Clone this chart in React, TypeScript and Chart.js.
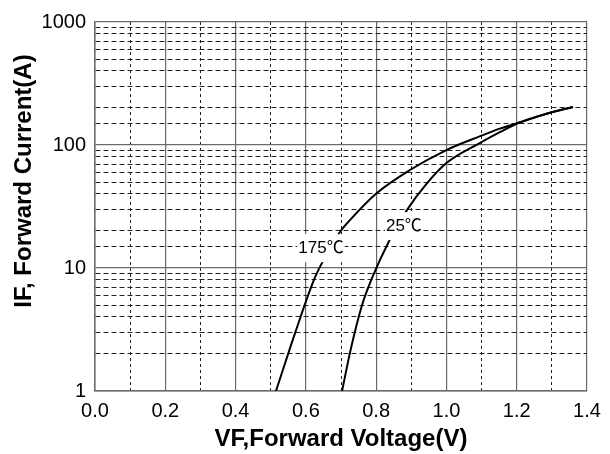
import React, { useEffect, useRef } from "react";
import { Chart, registerables } from "chart.js";

Chart.register(...registerables);

const vf175: number[] = [0.515, 0.57, 0.623, 0.646, 0.697, 0.726, 0.802, 0.896, 1.0, 1.096, 1.152, 1.204, 1.28, 1.36];
const if175: number[] = [1, 3, 8, 11, 19.6, 24.6, 40.7, 62.6, 91, 118, 136, 151, 178, 204];
const vf25: number[] = [0.703, 0.728, 0.76, 0.79, 0.837, 0.888, 0.945, 1.0, 1.096, 1.152, 1.204, 1.28, 1.36];
const if25: number[] = [1, 2.2, 5, 8.5, 16.6, 29.7, 49, 71.4, 104, 127, 151, 178, 204];

const seriesNames: string[] = ["175℃", "25℃"];
// label anchor positions in data units [VF, IF]
const labelAt: [number, number][] = [[0.643, 14.5], [0.879, 21.9]];

const xTitle = "VF,Forward Voltage(V)";
const yTitle = "IF, Forward Current(A)";
const xMin = 0, xMax = 1.4, xStep = 0.1;
const yMin = 1, yMax = 1000;

const FONT = "Arial, 'Liberation Sans', sans-serif";

export default function App() {
  const ref = useRef<HTMLCanvasElement | null>(null);
  useEffect(() => {
    if (!ref.current) return;
    const isMajorX = (v: number) => Math.round(v * 10) % 2 === 0;
    const isDecade = (v: number) => Math.abs(Math.log10(v) - Math.round(Math.log10(v))) < 1e-6;

    const labelsPlugin = {
      id: "curveLabels",
      afterDatasetsDraw(chart: any) {
        const { ctx, scales } = chart;
        ctx.save();
        ctx.font = `17px ${FONT}, 'Noto Sans CJK SC'`;
        ctx.textAlign = "center";
        ctx.textBaseline = "middle";
        seriesNames.forEach((name, i) => {
          const x = scales.x.getPixelForValue(labelAt[i][0]);
          const y = scales.y.getPixelForValue(labelAt[i][1]);
          const w = ctx.measureText(name).width;
          ctx.fillStyle = "#fff";
          ctx.fillRect(x - w / 2 - 1, y - 14, w + 2, 28);
          ctx.fillStyle = "#000";
          ctx.fillText(name, x, y);
        });
        // y-axis title
        ctx.font = `bold 24px ${FONT}`;
        ctx.translate(24, 181);
        ctx.rotate(-Math.PI / 2);
        ctx.fillText(yTitle, 0, 0);
        ctx.restore();
      },
    };

    const chart = new Chart(ref.current, {
      type: "line",
      data: {
        datasets: [
          {
            label: seriesNames[0],
            data: vf175.map((v, i) => ({ x: v, y: if175[i] })),
            borderColor: "#000",
            borderWidth: 2,
            pointRadius: 0,
            cubicInterpolationMode: "monotone",
            fill: false,
          },
          {
            label: seriesNames[1],
            data: vf25.map((v, i) => ({ x: v, y: if25[i] })),
            borderColor: "#000",
            borderWidth: 2,
            pointRadius: 0,
            cubicInterpolationMode: "monotone",
            fill: false,
          },
        ],
      },
      options: {
        animation: false,
        responsive: false,
        maintainAspectRatio: false,
        layout: { padding: { top: 22, right: 23, bottom: 0, left: 0 } },
        plugins: { legend: { display: false }, tooltip: { enabled: false } },
        scales: {
          x: {
            type: "linear",
            min: xMin,
            max: xMax,
            ticks: {
              stepSize: xStep,
              autoSkip: false,
              maxRotation: 0,
              padding: 8,
              color: "#000",
              font: { family: FONT, size: 20 },
              callback: (v: any) => (isMajorX(Number(v)) ? Number(v).toFixed(1) : ""),
            },
            grid: {
              drawTicks: false,
              color: (c: any) => (c.tick && isMajorX(c.tick.value) ? "#6a6a6a" : "#222"),
              lineWidth: (c: any) => (c.tick && isMajorX(c.tick.value) ? 1.2 : 1),
            },
            border: {
              color: "#6a6a6a",
              width: 1.5,
              dash: (c: any) => (c.tick && !isMajorX(c.tick.value) ? [3, 3] : []),
            },
            title: {
              display: true,
              text: xTitle,
              color: "#000",
              font: { family: FONT, size: 24, weight: "bold" },
              padding: { top: 0, bottom: 0 },
            },
            afterFit: (s: any) => { s.height = 63; },
          },
          y: {
            type: "logarithmic",
            min: yMin,
            max: yMax,
            ticks: {
              autoSkip: false,
              padding: 9,
              color: "#000",
              font: { family: FONT, size: 20 },
              callback: (v: any) => (isDecade(Number(v)) ? String(Number(v)) : ""),
            },
            grid: {
              drawTicks: false,
              color: (c: any) => (c.tick && isDecade(c.tick.value) ? "#6a6a6a" : "#222"),
              lineWidth: (c: any) => (c.tick && isDecade(c.tick.value) ? 1.2 : 1),
            },
            border: {
              color: "#6a6a6a",
              width: 1.5,
              dash: (c: any) => (c.tick && !isDecade(c.tick.value) ? [5, 3] : []),
            },
            afterFit: (s: any) => { s.width = 95; },
          },
        },
      },
      plugins: [labelsPlugin],
    } as any);
    return () => chart.destroy();
  }, []);

  return (
    <div style={{ position: "fixed", left: 0, top: 0, width: 610, height: 454, background: "#fff" }}>
      <canvas ref={ref} width={610} height={454} style={{ width: 610, height: 454 }} />
    </div>
  );
}
